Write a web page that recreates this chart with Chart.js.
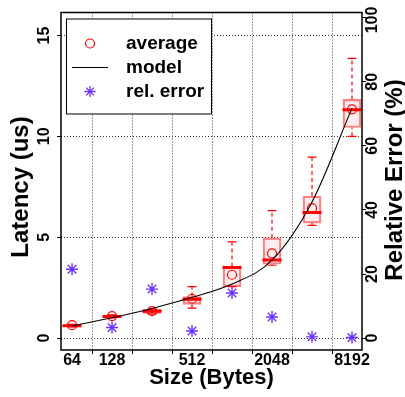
<!DOCTYPE html>
<html>
<head>
<meta charset="utf-8">
<script src="https://cdn.jsdelivr.net/npm/chart.js@4"></script>
<style>
html,body{margin:0;padding:0;background:#fff;}
</style>
</head>
<body>
<canvas id="chart" width="405" height="397"></canvas>
<script>
// message sizes (bytes) and what gets a label on the x axis
const sizes = [64,128,256,512,1024,2048,4096,8192];
const sizeLabels = ['64','128','','512','','2048','','8192'];

// latency (us)
const average = [0.64,1.09,1.34,1.95,3.14,4.2,6.44,11.34];
const model = [0.6,1.01,1.47,2.02,2.68,3.86,6.75,11.4];
const q1 = [0.57,1.03,1.22,1.67,2.55,3.66,5.70,10.44];
const median = [0.61,1.07,1.33,1.93,3.5,3.87,6.23,11.32];
const q3 = [0.64,1.12,1.42,2.06,3.55,4.97,7.04,11.83];
const whiskerLow = [0.55,1.0,1.2,1.49,2.55,3.61,5.59,10.0];
const whiskerHigh = [0.68,1.15,1.45,2.55,4.77,6.32,8.97,13.87];

// relative error (%)
const relError = [21.5,3.3,15.3,2.25,14.1,6.6,0.4,0.2];

const latencyTicks = [0,5,10,15];
const errorTicks = [0,20,40,60,80,100];

const RED = '#ff0000';
const VIOLET = '#6c33ff';
const FONT = '"Liberation Sans", Arial, Helvetica, sans-serif';

const whiskerPts = [];
const capPts = [];
sizes.forEach((s,i)=>{
  whiskerPts.push({x:s,y:q3[i]},{x:s,y:whiskerHigh[i]},{x:s,y:null});
  whiskerPts.push({x:s,y:whiskerLow[i]},{x:s,y:q1[i]},{x:s,y:null});
  capPts.push({x:s,y:whiskerHigh[i]},{x:s,y:whiskerLow[i]});
});

function rotText(ctx, txt, x, y){
  ctx.save();
  ctx.translate(x,y);
  ctx.rotate(-Math.PI/2);
  ctx.fillText(txt,0,0);
  ctx.restore();
}

// y-axis labels read bottom-to-top on both sides, frame and inset legend
const decor = {
  id:'decor',
  afterDraw(chart){
    const {ctx, chartArea:a, scales} = chart;
    ctx.save();
    ctx.strokeStyle = '#000';
    ctx.lineWidth = 1.5;
    ctx.strokeRect(a.left, a.top, a.right-a.left, a.bottom-a.top);

    ctx.fillStyle = '#000';
    ctx.textAlign = 'center';
    ctx.textBaseline = 'middle';
    ctx.font = 'bold 16px '+FONT;
    latencyTicks.forEach(v=>rotText(ctx, String(v), a.left-16, scales.y.getPixelForValue(v)));
    errorTicks.forEach(v=>rotText(ctx, String(v), a.right+11, Math.max(scales.y2.getPixelForValue(v), 20)));
    ctx.font = 'bold 24px '+FONT;
    rotText(ctx, 'Latency (us)', 21, 187);
    rotText(ctx, 'Relative Error (%)', chart.width-10, 180);

    // legend
    const lx = a.left+5, ly = a.top+6, lw = 145, lh = 95;
    ctx.fillStyle = '#fff';
    ctx.fillRect(lx, ly, lw, lh);
    ctx.lineWidth = 1;
    ctx.strokeRect(lx+0.5, ly+0.5, lw, lh);
    const mx = lx+24, tx = lx+60;
    ctx.strokeStyle = RED;
    ctx.lineWidth = 1.2;
    ctx.beginPath(); ctx.arc(mx, ly+25, 4.5, 0, Math.PI*2); ctx.stroke();
    ctx.strokeStyle = '#000';
    ctx.lineWidth = 1;
    ctx.beginPath(); ctx.moveTo(lx+6, ly+49); ctx.lineTo(lx+42, ly+49); ctx.stroke();
    ctx.strokeStyle = VIOLET;
    ctx.lineWidth = 1.3;
    Chart.helpers.drawPoint(ctx, {pointStyle:'star', radius:5.5, borderWidth:1.3}, mx, ly+73);
    ctx.fillStyle = '#000';
    ctx.textAlign = 'left';
    ctx.font = 'bold 19px '+FONT;
    ctx.fillText('average', tx, ly+25);
    ctx.fillText('model', tx, ly+49);
    ctx.fillText('rel. error', tx, ly+73);
    ctx.restore();
  }
};

const gridStyle = {color:'#333', lineWidth:1, tickLength:4, tickColor:'#000', tickBorderDash:[]};

new Chart(document.getElementById('chart'), {
  data:{
    datasets:[
      { type:'bar', label:'box', order:6, grouped:false,
        data: sizes.map((s,i)=>({x:s, y:[q1[i], q3[i]]})),
        backgroundColor:'rgba(255,0,0,0.07)', borderColor:'rgba(255,60,60,0.65)',
        borderWidth:1.5, borderSkipped:false, barThickness:18 },
      { type:'line', label:'whisker', order:5, data:whiskerPts,
        borderColor:RED, borderWidth:1.2, borderDash:[4,3], pointRadius:0, spanGaps:false },
      { type:'scatter', label:'cap', order:5, data:capPts,
        pointStyle:'line', pointRadius:4.5, borderColor:RED, borderWidth:1.2 },
      { type:'scatter', label:'median', order:4,
        data: sizes.map((s,i)=>({x:s, y:median[i]})),
        pointStyle:'line', pointRadius:9.5, borderColor:RED, borderWidth:3 },
      { type:'scatter', label:'average', order:3,
        data: sizes.map((s,i)=>({x:s, y:average[i]})),
        pointStyle:'circle', pointRadius:4.5, borderColor:RED, backgroundColor:'rgba(0,0,0,0)', borderWidth:1.2 },
      { type:'line', label:'model', order:2,
        data: sizes.map((s,i)=>({x:s, y:model[i]})),
        borderColor:'#000', borderWidth:1.1, pointRadius:0, cubicInterpolationMode:'monotone' },
      { type:'scatter', label:'rel. error', order:1, yAxisID:'y2',
        data: sizes.map((s,i)=>({x:s, y:relError[i]})),
        pointStyle:'star', pointRadius:6, borderColor:VIOLET, borderWidth:1.4 }
    ]
  },
  options:{
    responsive:false,
    animation:false,
    devicePixelRatio:1,
    layout:{padding:{top:9,left:0,right:0,bottom:0}},
    plugins:{legend:{display:false}, tooltip:{enabled:false}},
    scales:{
      x:{
        type:'logarithmic', min:52.86, max:9742,
        afterBuildTicks:s=>{ s.ticks = sizes.map(v=>({value:v})); },
        afterFit:s=>{ s.height = 47; },
        grid:gridStyle,
        border:{display:false, dash:[1,2]},
        ticks:{autoSkip:false, maxRotation:0, padding:-1,
          font:{family:FONT, size:16, weight:'bold', lineHeight:1}, color:'#000',
          callback:(v,i)=>sizeLabels[i]},
        title:{display:true, text:'Size (Bytes)', color:'#000',
          font:{family:FONT, size:22, weight:'bold', lineHeight:1}, padding:{top:0,bottom:8}}
      },
      y:{
        position:'left', min:-0.59, max:16.14,
        afterBuildTicks:s=>{ s.ticks = latencyTicks.map(v=>({value:v})); },
        afterFit:s=>{ s.width = 61; },
        grid:gridStyle,
        border:{display:false, dash:[1,2]},
        ticks:{display:false}
      },
      y2:{
        position:'right', min:-3.7, max:101.6,
        afterBuildTicks:s=>{ s.ticks = errorTicks.map(v=>({value:v})); },
        afterFit:s=>{ s.width = 43; },
        grid:{drawOnChartArea:false, tickLength:4, tickColor:'#000'},
        border:{display:false},
        ticks:{display:false}
      }
    }
  },
  plugins:[decor]
});
</script>
</body>
</html>
